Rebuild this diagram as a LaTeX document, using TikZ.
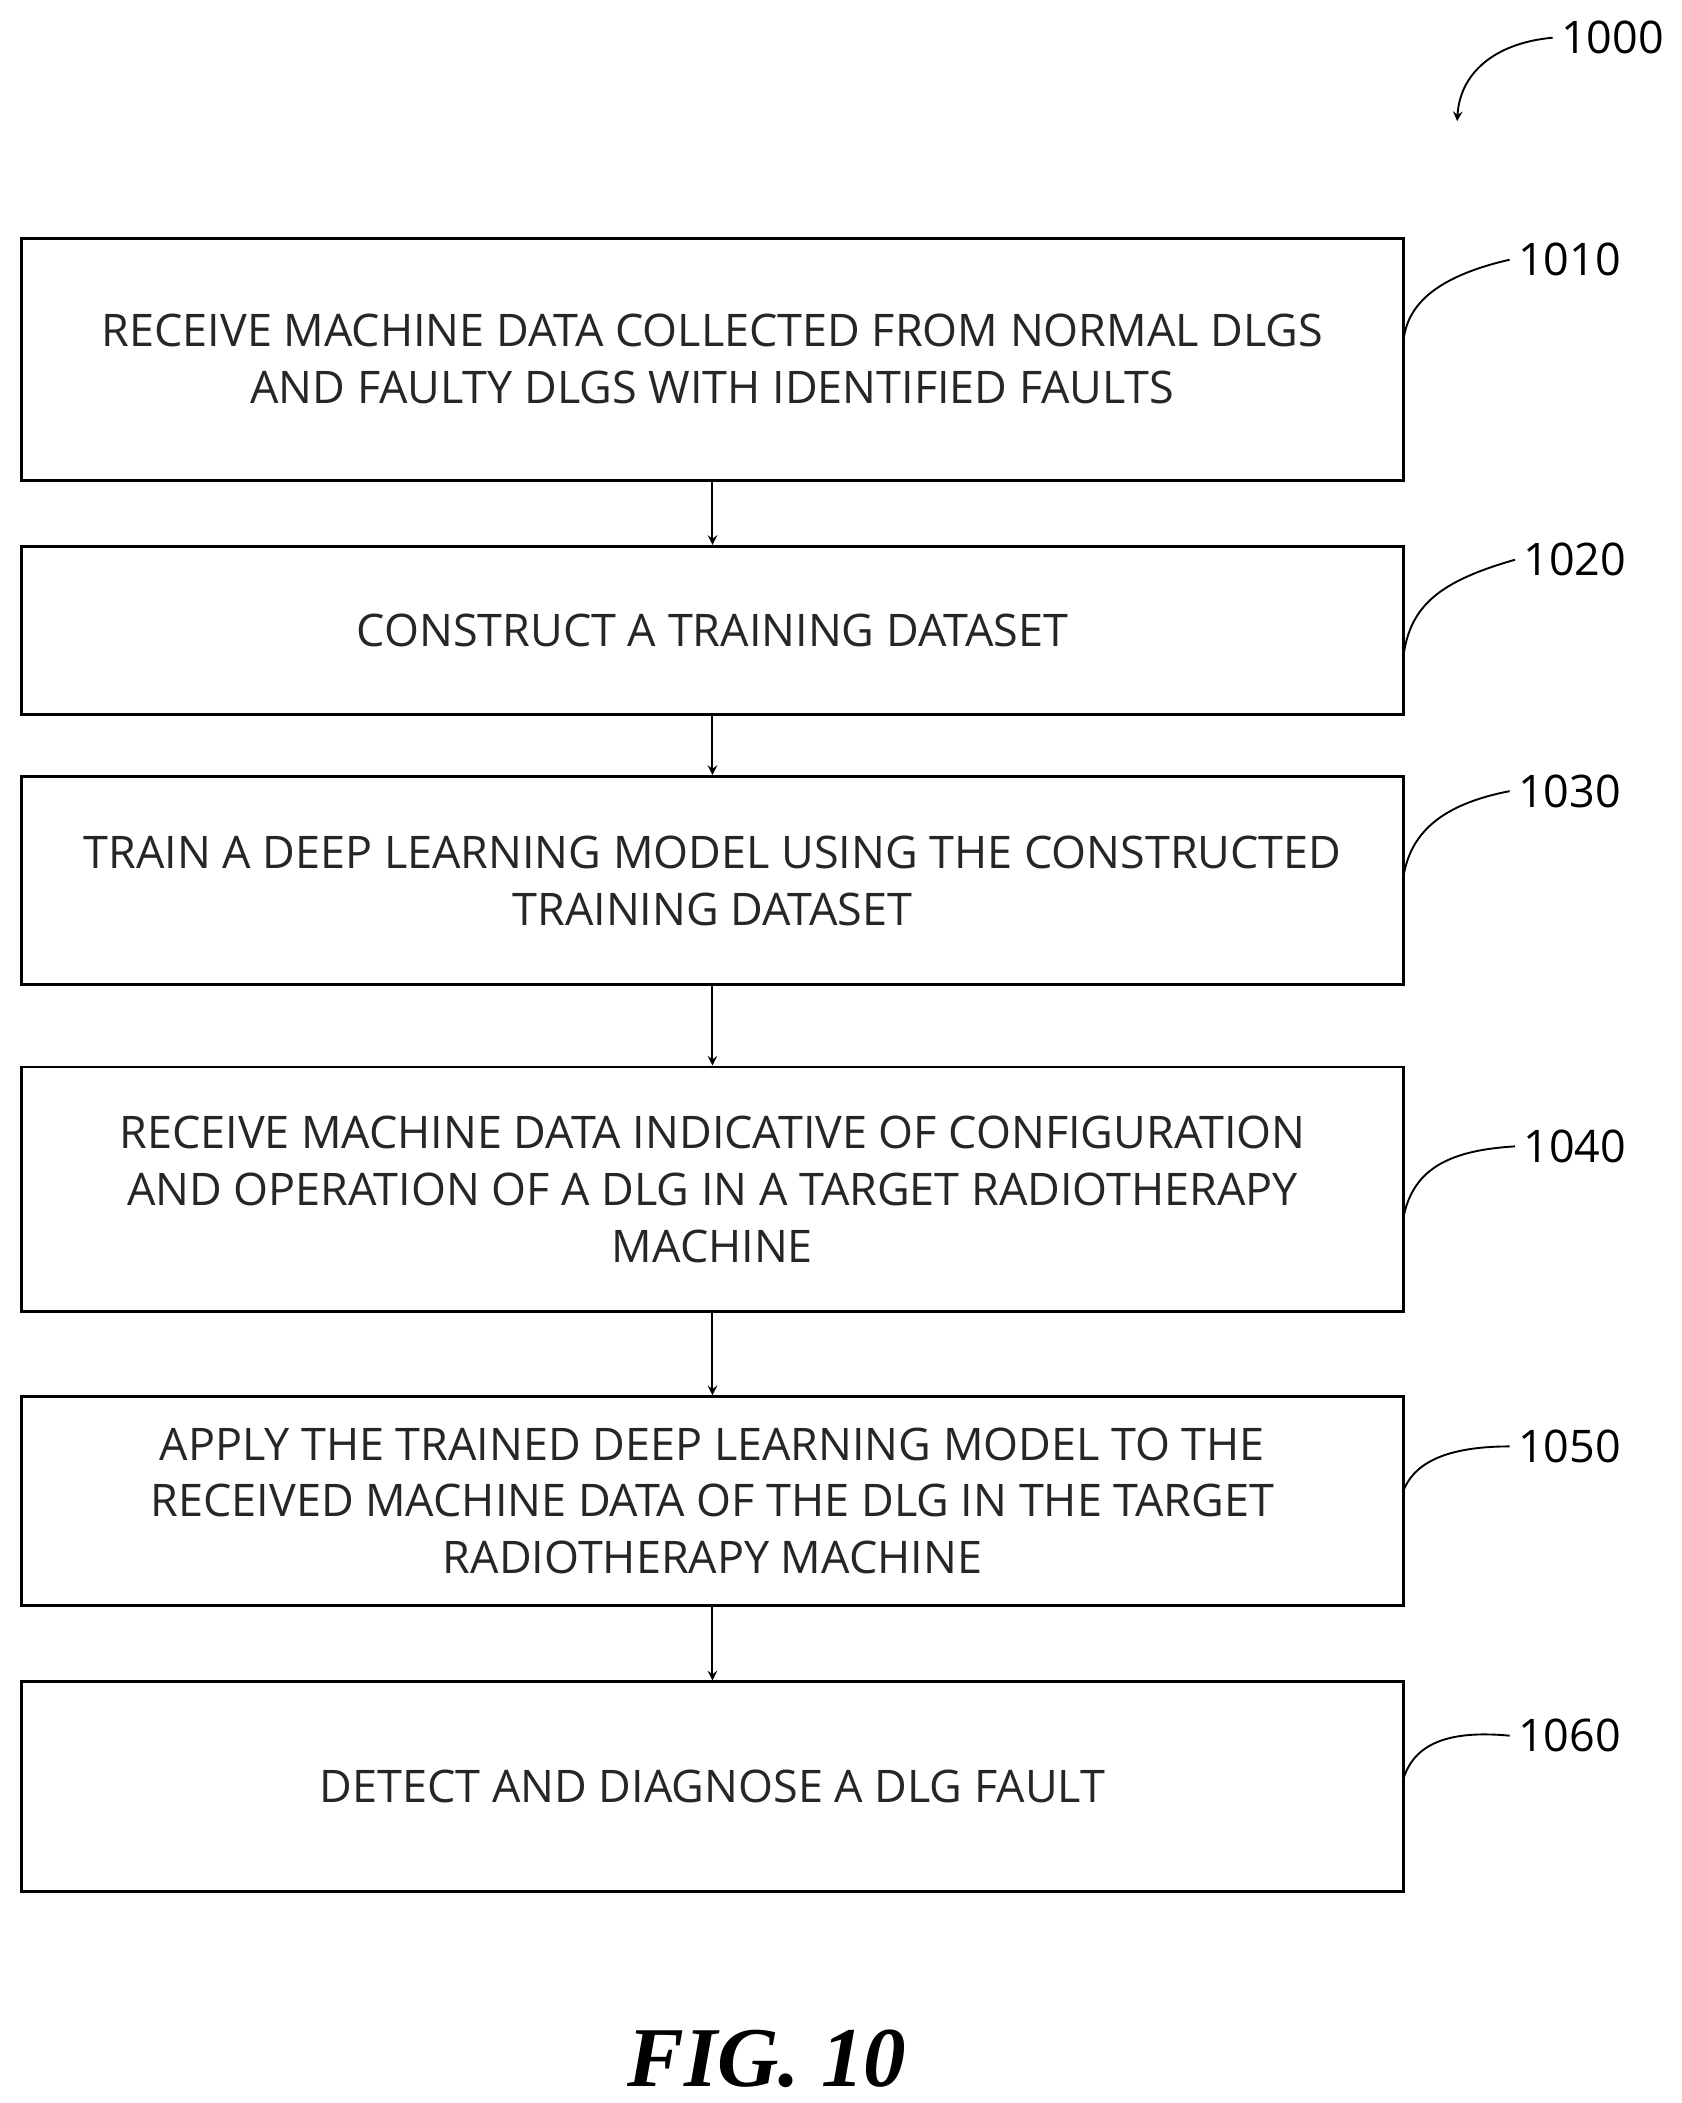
\documentclass[tikz,border=0pt]{standalone}
\usepackage{fontspec}
\setmainfont{Open Sans}
\newfontfamily\figfont{Liberation Serif}
\usetikzlibrary{positioning}
\begin{document}
\begin{tikzpicture}[x=0.02cm,y=-0.02cm]
  \tikzset{etape/.style={draw=black, line width=1.2pt, minimum width=20.54cm, inner sep=0pt, align=center, font=\fontsize{19}{24}\selectfont\color{black!85}},
           fleche/.style={->, >=stealth, line width=0.8pt},
           repere/.style={line width=0.8pt},
           numero/.style={font=\fontsize{19}{22}\selectfont, anchor=west}};
  \useasboundingbox (0,0) rectangle (1250,1563);

  \node[etape, minimum height=3.6cm] (e1010) at (529.5,267) {RECEIVE MACHINE DATA COLLECTED FROM NORMAL DLGS\\AND FAULTY DLGS WITH IDENTIFIED FAULTS};
  \node[etape, minimum height=2.5cm] (e1020) at (529.5,468.5) {CONSTRUCT A TRAINING DATASET};
  \node[etape, minimum height=3.1cm] (e1030) at (529.5,654.5) {TRAIN A DEEP LEARNING MODEL USING THE CONSTRUCTED\\TRAINING DATASET};
  \node[etape, minimum height=3.64cm] (e1040) at (529.5,884) {RECEIVE MACHINE DATA INDICATIVE OF CONFIGURATION\\AND OPERATION OF A DLG IN A TARGET RADIOTHERAPY\\MACHINE};
  \node[etape, minimum height=3.1cm] (e1050) at (529.5,1115.5) {APPLY THE TRAINED DEEP LEARNING MODEL TO THE\\RECEIVED MACHINE DATA OF THE DLG IN THE TARGET\\RADIOTHERAPY MACHINE};
  \node[etape, minimum height=3.12cm] (e1060) at (529.5,1328) {DETECT AND DIAGNOSE A DLG FAULT};

  \draw[fleche] (e1010) -- (e1020);
  \draw[fleche] (e1020) -- (e1030);
  \draw[fleche] (e1030) -- (e1040);
  \draw[fleche] (e1040) -- (e1050);
  \draw[fleche] (e1050) -- (e1060);

  \node[numero] (n1010) at (1122,193) {1010};
  \node[numero] (n1020) at (1126,416) {1020};
  \node[numero] (n1030) at (1122,588) {1030};
  \node[numero] (n1040) at (1126,852) {1040};
  \node[numero] (n1050) at (1122,1075) {1050};
  \node[numero] (n1060) at (1122,1290) {1060};
  \node[numero] (n1000) at (1154,28) {1000};

  \draw[repere] (n1010.west) .. controls (1070,205) and (1045,225) .. (1043,255);
  \draw[repere] (n1020.west) .. controls (1070,432) and (1048,450) .. (1043,488);
  \draw[repere] (n1030.west) .. controls (1070,598) and (1048,620) .. (1043,652);
  \draw[repere] (n1040.west) .. controls (1075,855) and (1050,870) .. (1043,905);
  \draw[repere] (n1050.west) .. controls (1070,1075) and (1050,1090) .. (1043,1108);
  \draw[repere] (n1060.west) .. controls (1070,1285) and (1050,1300) .. (1043,1322);
  \coordinate (p1000) at (1083,90);
  \draw[fleche] (n1000.west) .. controls (1110,32) and (1085,55) .. (p1000);

  \node[font=\figfont\bfseries\itshape\fontsize{36}{40}\selectfont] (titre) at (570,1530) {FIG. 10};
\end{tikzpicture}
\end{document}
